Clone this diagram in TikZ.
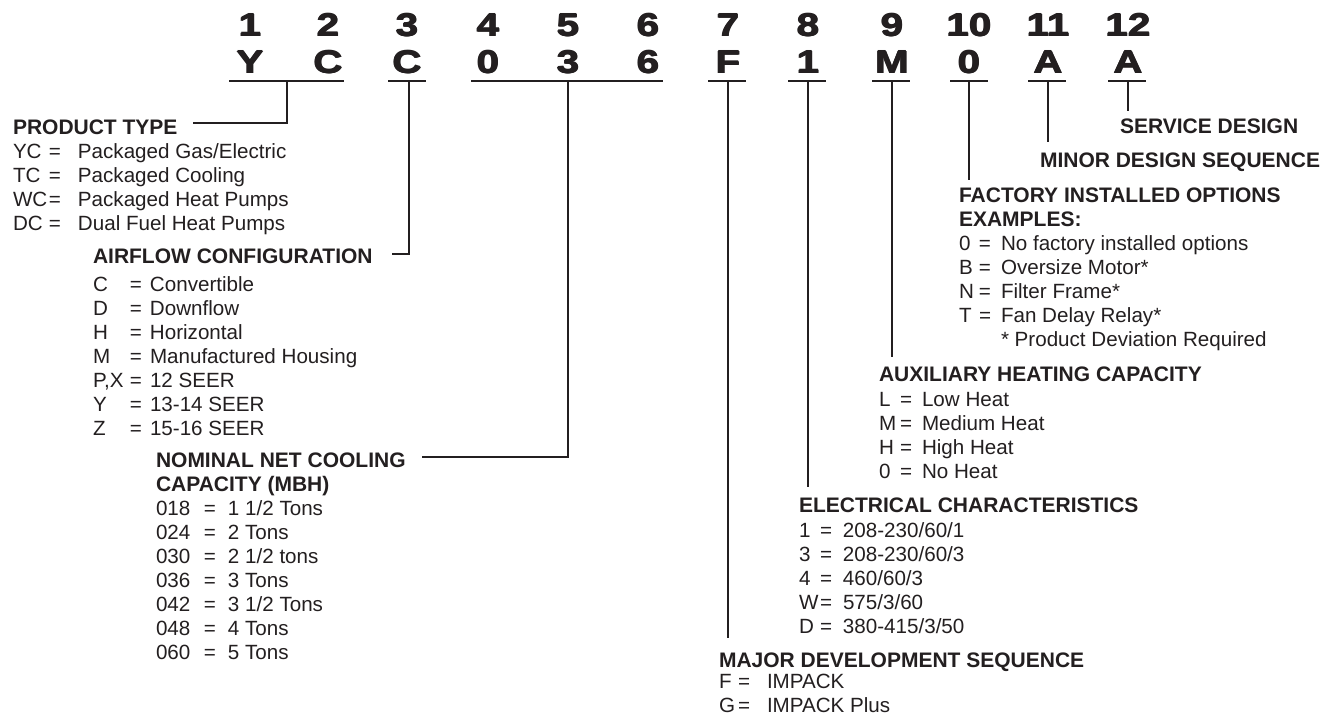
\documentclass[tikz,border=0pt]{standalone}
\usepackage{fontspec}
\setmainfont{Liberation Sans}
\newfontfamily\hdrfont[FakeStretch=1.26]{Liberation Sans Bold}
\definecolor{ink}{RGB}{35,31,32}
\newcommand\klist[3]{\begin{tabular}[t]{@{}p{#1}@{}p{#2}@{}l@{}}#3\end{tabular}}
\newcommand\ktitle[1]{\begin{tabular}[t]{@{}l@{}}#1\end{tabular}}
\newcommand\heavy[1]{\setbox0\hbox{#1}\hbox to \dimexpr\wd0+0.9pt\relax{%
  \rlap{\copy0}\rlap{\kern0.9pt\copy0}\rlap{\kern0.45pt\raise0.35pt\copy0}%
  \rlap{\kern0.45pt\lower0.35pt\copy0}\hfil}}
\begin{document}
\begin{tikzpicture}[x=0.75pt,y=-0.75pt,
  every node/.style={inner sep=0pt,outer sep=0pt,text=ink},
  hdr/.style={anchor=base,font=\hdrfont\fontsize{24}{24}\selectfont},
  ttl/.style={anchor=base west,font=\bfseries\fontsize{15.75}{18}\selectfont},
  lst/.style={anchor=base west,font=\fontsize{15.45}{18}\selectfont},
  wire/.style={draw=ink,line width=1.4pt}]
\fill[white] (0,0) rectangle (1333,715);
\useasboundingbox (0,0) rectangle (1333,715);

% header digits and letters
\foreach \i/\x/\c in {1/250/Y,2/328/C,3/407/C,4/488/0,5/568/3,6/648/6,
  7/728/F,8/808/1,9/892/M,10/969/0,11/1048/A,12/1128/A}{
  \node[hdr] (d\i) at (\x,36) {\heavy{\i}};
  \node[hdr] (c\i) at (\x,73) {\heavy{\c}};
}

% underlines
\foreach \n/\a/\b/\m in {1/229/344/287,2/388/426/409,3/471/663/568,
  7/708/746/728,8/788/826/808,9/872/910/892,10/950/988/969,
  11/1028/1066/1048,12/1108/1146/1128}{
  \coordinate (g\n w) at (\a,81);
  \coordinate (g\n e) at (\b,81);
  \coordinate (g\n m) at (\m,81);
  \draw[wire] (g\n w) -- (g\n e);
}

% connector ends
\coordinate (k1) at (193,123);
\coordinate (k2) at (392,254);
\coordinate (k3) at (422,457);
\coordinate (k7) at (728,638);
\coordinate (k8) at (808,487);
\coordinate (k9) at (892,357);
\coordinate (k10) at (969,180);
\coordinate (k11) at (1048,142);
\coordinate (k12) at (1128,111);
\draw[wire] (g1m) |- (k1);
\draw[wire] (g2m) |- (k2);
\draw[wire] (g3m) |- (k3);
\foreach \n in {7,8,9,10,11,12}{\draw[wire] (g\n m) -- (k\n);}

% PRODUCT TYPE
\node[ttl] (t1) at (13,134.5) {PRODUCT TYPE};
\node[lst] (l1) at (13,158.5) {\klist{27pt}{21.75pt}{
YC & = & Packaged Gas/Electric\\
TC & = & Packaged Cooling\\
WC & = & Packaged Heat Pumps\\
DC & = & Dual Fuel Heat Pumps}};

% AIRFLOW CONFIGURATION
\node[ttl] (t2) at (93,263.5) {AIRFLOW CONFIGURATION};
\node[lst] (l2) at (93,291) {\klist{27.75pt}{15pt}{
C & = & Convertible\\
D & = & Downflow\\
H & = & Horizontal\\
M & = & Manufactured Housing\\
P,X & = & 12 SEER\\
Y & = & 13-14 SEER\\
Z & = & 15-16 SEER}};

% NOMINAL NET COOLING CAPACITY
\node[ttl] (t3) at (156,467.5) {\ktitle{NOMINAL NET COOLING\\CAPACITY (MBH)}};
\node[lst] (l3) at (156,515.5) {\klist{36pt}{18pt}{
018 & = & 1 1/2 Tons\\
024 & = & 2 Tons\\
030 & = & 2 1/2 tons\\
036 & = & 3 Tons\\
042 & = & 3 1/2 Tons\\
048 & = & 4 Tons\\
060 & = & 5 Tons}};

% MAJOR DEVELOPMENT SEQUENCE
\node[ttl] (t4) at (719,667) {MAJOR DEVELOPMENT SEQUENCE};
\node[lst] (l4) at (719,688.5) {\klist{14.25pt}{21.75pt}{
F & = & IMPACK\\
G & = & IMPACK Plus}};

% ELECTRICAL CHARACTERISTICS
\node[ttl] (t5) at (799,512.5) {ELECTRICAL CHARACTERISTICS};
\node[lst] (l5) at (799,537.5) {\klist{15.75pt}{17.25pt}{
1 & = & 208-230/60/1\\
3 & = & 208-230/60/3\\
4 & = & 460/60/3\\
W & = & 575/3/60\\
D & = & 380-415/3/50}};

% AUXILIARY HEATING CAPACITY
\node[ttl] (t6) at (879,381.5) {AUXILIARY HEATING CAPACITY};
\node[lst] (l6) at (879,406.5) {\klist{15.75pt}{16.5pt}{
L & = & Low Heat\\
M & = & Medium Heat\\
H & = & High Heat\\
0 & = & No Heat}};

% FACTORY INSTALLED OPTIONS
\node[ttl] (t7) at (959,202.5) {\ktitle{FACTORY INSTALLED OPTIONS\\EXAMPLES:}};
\node[lst] (l7) at (959,250.5) {\klist{15pt}{16.5pt}{
0 & = & No factory installed options\\
B & = & Oversize Motor*\\
N & = & Filter Frame*\\
T & = & Fan Delay Relay*\\
 & & * Product Deviation Required}};

% MINOR DESIGN SEQUENCE / SERVICE DESIGN
\node[ttl] (t8) at (1040,167.5) {MINOR DESIGN SEQUENCE};
\node[ttl] (t9) at (1120,133.5) {SERVICE DESIGN};
\end{tikzpicture}
\end{document}
